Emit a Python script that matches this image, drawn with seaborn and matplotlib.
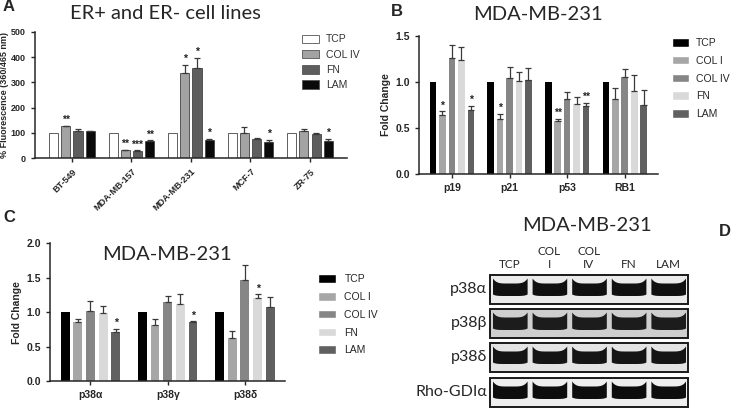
import numpy as np
import pandas as pd
import seaborn as sns
import matplotlib.pyplot as plt
from matplotlib.patches import Patch, Rectangle, Polygon

sns.set_style('ticks')
plt.rcParams['font.family'] = ['Liberation Sans', 'DejaVu Sans']
plt.rcParams['axes.linewidth'] = 1.1
TITLE_FONT = ['Lato', 'DejaVu Sans']

# ---- Panel A data ----
a_lines = ['BT-549', 'MDA-MB-157', 'MDA-MB-231', 'MCF-7', 'ZR-75']
a_conds = ['TCP', 'COL IV', 'FN', 'LAM']
a_vals = {
    'TCP':    [100, 100, 100, 100, 100],
    'COL IV': [125, 30, 337, 101, 109],
    'FN':     [107, 27, 355, 74, 95],
    'LAM':    [106, 66, 72, 63, 67],
}
a_err = {
    'TCP':    [0, 0, 0, 0, 0],
    'COL IV': [3, 3, 32, 20, 7],
    'FN':     [7, 3, 42, 6, 4],
    'LAM':    [2, 4, 5, 8, 9],
}
a_stars = {
    'TCP':    ['', '', '', '', ''],
    'COL IV': ['**', '**', '*', '', ''],
    'FN':     ['', '***', '*', '', ''],
    'LAM':    ['', '**', '*', '*', '*'],
}
a_colors = ['white', '#a3a3a3', '#5e5e5e', '#0a0a0a']

# ---- Panel B data ----
b_genes = ['p19', 'p21', 'p53', 'RB1']
conds5 = ['TCP', 'COL I', 'COL IV', 'FN', 'LAM']
b_vals = {
    'TCP':    [1.0, 1.0, 1.0, 1.0],
    'COL I':  [0.64, 0.60, 0.57, 0.81],
    'COL IV': [1.26, 1.04, 0.81, 1.05],
    'FN':     [1.24, 1.01, 0.76, 0.90],
    'LAM':    [0.69, 1.02, 0.74, 0.75],
}
b_err = {
    'TCP':    [0, 0, 0, 0],
    'COL I':  [0.04, 0.05, 0.03, 0.12],
    'COL IV': [0.14, 0.12, 0.08, 0.09],
    'FN':     [0.14, 0.10, 0.08, 0.17],
    'LAM':    [0.05, 0.13, 0.03, 0.16],
}
b_stars = {
    'TCP':    ['', '', '', ''],
    'COL I':  ['*', '*', '**', ''],
    'COL IV': ['', '', '', ''],
    'FN':     ['', '', '', ''],
    'LAM':    ['*', '', '**', ''],
}
colors5 = ['#000000', '#a6a6a6', '#868686', '#d9d9d9', '#606060']

# ---- Panel C data ----
c_genes = ['p38α', 'p38γ', 'p38δ']
c_vals = {
    'TCP':    [1.0, 1.0, 1.0],
    'COL I':  [0.86, 0.82, 0.63],
    'COL IV': [1.02, 1.14, 1.47],
    'FN':     [0.98, 1.12, 1.21],
    'LAM':    [0.71, 0.85, 1.08],
}
c_err = {
    'TCP':    [0, 0, 0],
    'COL I':  [0.04, 0.08, 0.09],
    'COL IV': [0.14, 0.09, 0.21],
    'FN':     [0.11, 0.14, 0.05],
    'LAM':    [0.05, 0.02, 0.14],
}
c_stars = {
    'TCP':    ['', '', ''],
    'COL I':  ['', '', ''],
    'COL IV': ['', '', ''],
    'FN':     ['', '', '*'],
    'LAM':    ['*', '*', ''],
}

# ---- Panel D (blot) ----
d_lanes = ['TCP', 'COL\nI', 'COL\nIV', 'FN', 'LAM']
d_rows = ['p38α', 'p38β', 'p38δ', 'Rho-GDIα']
d_bg = ['#ebebeb', '#cfcfcf', '#e4e4e4', '#eeeeee']
d_band_color = ['#111111', '#1c1c1c', '#151515', '#0d0d0d']


def to_long(cats, vals, conds):
    rows = []
    for c in conds:
        for g, v in zip(cats, vals[c]):
            rows.append({'cat': g, 'cond': c, 'val': v})
    return pd.DataFrame(rows)


def bar_panel(ax, cats, conds, vals, errs, stars, colors, gap, ecol, star_off, lsize):
    df = to_long(cats, vals, conds)
    sns.barplot(data=df, x='cat', y='val', hue='cond', order=cats, hue_order=conds,
                palette=colors, errorbar=None, width=0.82, gap=gap,
                edgecolor=ecol, linewidth=0.6, legend=False, ax=ax)
    for cont, c in zip(ax.containers, conds):
        for bar, e, s in zip(cont, errs[c], stars[c]):
            xc = bar.get_x() + bar.get_width() / 2
            top = bar.get_height()
            if e > 0:
                ax.errorbar(xc, top, yerr=[[0], [e]], fmt='none', ecolor='#3a3a3a',
                            elinewidth=0.9, capsize=2, capthick=0.9)
            if s:
                ax.text(xc, top + e + star_off, s, ha='center', va='bottom',
                        fontsize=7.5, fontweight='bold', color='#222222')
    ax.set_xlabel('')
    sns.despine(ax=ax)
    ax.tick_params(labelsize=lsize, width=1.0, length=3)
    for lab in ax.get_xticklabels() + ax.get_yticklabels():
        lab.set_fontweight('bold')


fig = plt.figure(figsize=(7.4, 4.12), dpi=100)

# Panel A
axA = fig.add_axes([0.047, 0.6165, 0.422, 0.306])
bar_panel(axA, a_lines, a_conds, a_vals, a_err, a_stars, a_colors, 0.25, '#444444', 3, 6.5)
axA.set_ylim(0, 500)
axA.set_yticks([0, 100, 200, 300, 400, 500])
axA.set_ylabel('% Fluorescence (360/465 nm)', fontsize=6.5, fontweight='bold', labelpad=1)
plt.setp(axA.get_xticklabels(), rotation=45, ha='right', rotation_mode='anchor')
axA.legend(handles=[Patch(facecolor=c, edgecolor='#555555', lw=0.6, label=l)
                    for c, l in zip(a_colors, a_conds)],
           loc='upper left', bbox_to_anchor=(0.856, 0.98), frameon=False, fontsize=7.5,
           borderaxespad=0, borderpad=0,
           handlelength=1.6, handleheight=0.9, labelspacing=0.5, handletextpad=0.7,
           labelcolor='#333333')
fig.text(0.223, 0.968, 'ER+ and ER- cell lines', ha='center', va='center',
         fontsize=14.5, family=TITLE_FONT)
fig.text(0.004, 0.985, 'A', ha='left', va='center', fontsize=12, fontweight='bold')

# Panel B
axB = fig.add_axes([0.566, 0.578, 0.323, 0.335])
bar_panel(axB, b_genes, conds5, b_vals, b_err, b_stars, colors5, 0.3, 'none', 0.01, 7.5)
axB.set_ylim(0, 1.5)
axB.set_yticks([0, 0.5, 1.0, 1.5])
axB.set_yticklabels(['0.0', '0.5', '1.0', '1.5'], fontweight='bold')
axB.set_ylabel('Fold Change', fontsize=7.5, fontweight='bold', labelpad=3)
axB.legend(handles=[Patch(facecolor=c, label=l) for c, l in zip(colors5, conds5)],
           loc='upper left', bbox_to_anchor=(1.058, 0.985), frameon=False, fontsize=7.5,
           borderaxespad=0, borderpad=0,
           handlelength=1.7, handleheight=0.9, labelspacing=0.75, handletextpad=0.6)
fig.text(0.727, 0.966, 'MDA-MB-231', ha='center', va='center', fontsize=14.5, family=TITLE_FONT)
fig.text(0.528, 0.972, 'B', ha='left', va='center', fontsize=12, fontweight='bold')

# Panel C
axC = fig.add_axes([0.0676, 0.075, 0.318, 0.335])
bar_panel(axC, c_genes, conds5, c_vals, c_err, c_stars, colors5, 0.3, 'none', 0.01, 7.5)
axC.set_ylim(0, 2.0)
axC.set_yticks([0, 0.5, 1.0, 1.5, 2.0])
axC.set_yticklabels(['0.0', '0.5', '1.0', '1.5', '2.0'], fontweight='bold')
axC.set_ylabel('Fold Change', fontsize=7.5, fontweight='bold', labelpad=3)
axC.legend(handles=[Patch(facecolor=c, label=l) for c, l in zip(colors5, conds5)],
           loc='upper left', bbox_to_anchor=(1.14, 0.775), frameon=False, fontsize=7.5,
           borderaxespad=0, borderpad=0,
           handlelength=1.7, handleheight=0.9, labelspacing=0.75, handletextpad=0.8)
fig.text(0.225, 0.382, 'MDA-MB-231', ha='center', va='center', fontsize=14.5, family=TITLE_FONT)
fig.text(0.004, 0.473, 'C', ha='left', va='center', fontsize=12, fontweight='bold')

# Panel D: blot drawn in pixel coordinates
axD = fig.add_axes([0, 0, 1, 1])
axD.set_xlim(0, 740)
axD.set_ylim(412, 0)
axD.axis('off')
axD.patch.set_alpha(0)
axD.text(587, 225, 'MDA-MB-231', ha='center', va='center', fontsize=14.5, family=TITLE_FONT)
axD.text(719, 231, 'D', ha='left', va='center', fontsize=12, fontweight='bold')
x0, x1 = 490, 688
lane_w = (x1 - x0) / len(d_lanes)
for i, lab in enumerate(d_lanes):
    axD.text(x0 + lane_w * (i + 0.5), 270, lab, ha='center', va='bottom', fontsize=8.5,
             family=TITLE_FONT, linespacing=1.2)
box_tops = [275, 309, 343, 378]
box_h = 29
t = np.linspace(-1, 1, 60)
for name, yt, bg, bc in zip(d_rows, box_tops, d_bg, d_band_color):
    axD.add_patch(Rectangle((x0, yt), x1 - x0, box_h, facecolor=bg, edgecolor='#1a1a1a', lw=1.4))
    axD.text(x0 - 3, yt + box_h / 2, name, ha='right', va='center', fontsize=11.5,
             family=TITLE_FONT)
    for i in range(len(d_lanes)):
        lx = x0 + lane_w * i + 3
        rx = lx + lane_w - 5
        xs = lx + (t + 1) / 2 * (rx - lx)
        top = yt + 8.5 - 5 * np.abs(t) ** 5
        bot = yt + 21 - 1.5 * np.abs(t) ** 6
        pts = list(zip(xs, top)) + list(zip(xs[::-1], bot[::-1]))
        axD.add_patch(Polygon(pts, closed=True, facecolor=bc, edgecolor='none'))

fig.savefig('out.png', dpi=100)
